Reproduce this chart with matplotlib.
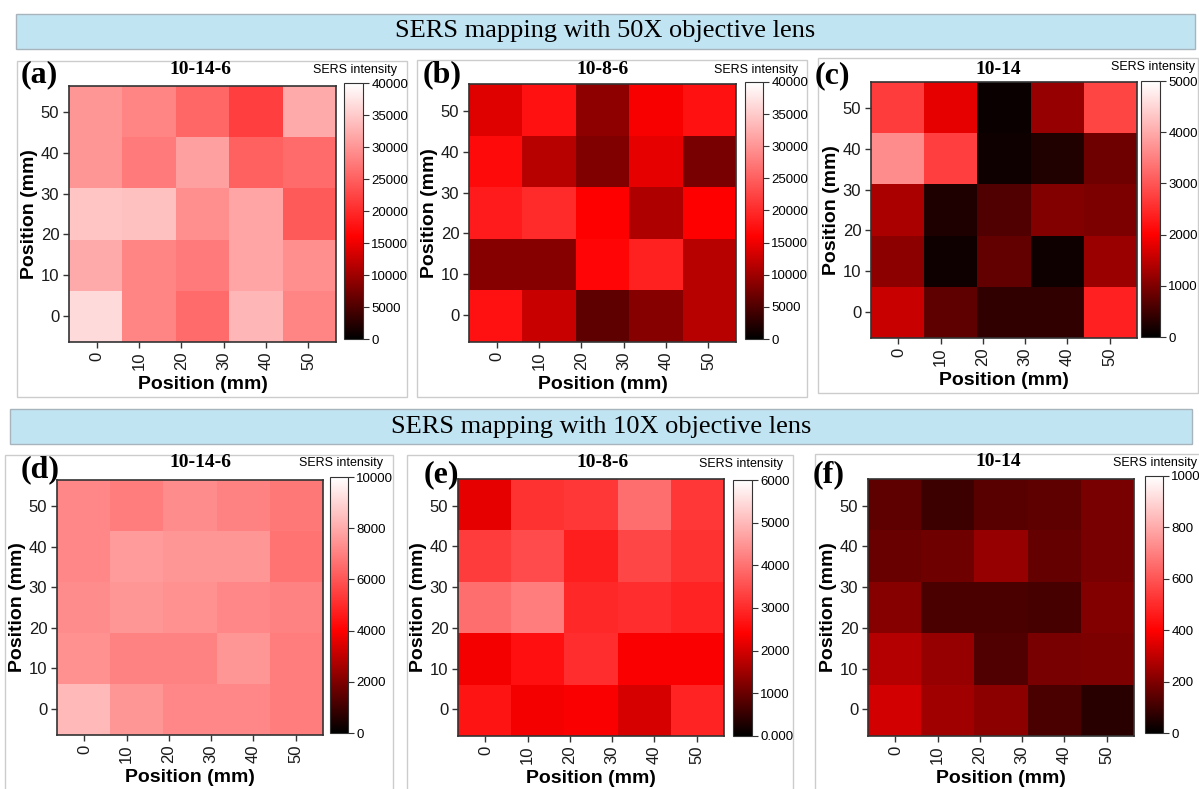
import numpy as np
import matplotlib
matplotlib.use("Agg")
import matplotlib.pyplot as plt
from matplotlib.colors import LinearSegmentedColormap
from matplotlib.patches import Rectangle

W, H = 1199, 789

# Grid positions (mm) and cell edges
positions = [0, 10, 20, 30, 40, 50]
edges = np.linspace(-6.5, 56.5, 6)

# SERS intensity maps, rows listed from top (50 mm) to bottom (0 mm)
map_a = [[30000, 28500, 25500, 22000, 32000],
         [30000, 27500, 31000, 25000, 26000],
         [34500, 34000, 29500, 31500, 24500],
         [32000, 28500, 27500, 31500, 29500],
         [36500, 28500, 26000, 33000, 28500]]
map_b = [[14000, 17500, 9000, 15500, 17500],
         [17000, 11500, 8000, 14500, 7500],
         [18500, 20000, 16000, 11000, 16000],
         [8500, 8500, 16500, 19000, 11500],
         [17500, 12500, 6000, 8500, 11500]]
map_c = [[2700, 1800, 80, 1180, 2800],
         [3650, 2750, 120, 270, 860],
         [1330, 240, 630, 1020, 980],
         [1100, 120, 780, 120, 1220],
         [1570, 750, 390, 390, 2400]]
map_d = [[7180, 6940, 7300, 7060, 6820],
         [7180, 7650, 7530, 7530, 6700],
         [7300, 7530, 7400, 7180, 7060],
         [7400, 7060, 7060, 7530, 6940],
         [8350, 7530, 7180, 7180, 6940]]
map_e = [[2160, 3100, 3180, 3950, 3180],
         [3250, 3460, 2820, 3390, 3100],
         [3950, 4160, 2960, 3040, 2890],
         [2300, 2610, 3040, 2350, 2350],
         [2680, 2300, 2350, 2020, 2890]]
map_f = [[150, 95, 140, 150, 190],
         [165, 172, 235, 157, 190],
         [212, 118, 118, 110, 204],
         [282, 235, 125, 190, 196],
         [330, 250, 220, 118, 63]]

panel_tags = ["(a)", "(b)", "(c)", "(d)", "(e)", "(f)"]
sample_names = ["10-14-6", "10-8-6", "10-14", "10-14-6", "10-8-6", "10-14"]
maps = [map_a, map_b, map_c, map_d, map_e, map_f]
cbar_max = [40000, 40000, 5000, 10000, 6000, 1000]
cbar_step = [5000, 5000, 1000, 2000, 1000, 200]
banner_texts = ["SERS mapping with 50X objective lens",
                "SERS mapping with 10X objective lens"]

cmap = LinearSegmentedColormap.from_list(
    "sers", [(0.0, "black"), (0.4, "red"), (1.0, "white")], N=256)

serif = ["Liberation Serif", "DejaVu Serif"]
sans = ["Liberation Sans", "DejaVu Sans"]

fig = plt.figure(figsize=(W / 100, H / 100), dpi=100)
fig.patch.set_facecolor("white")


def rect(x0, y0, x1, y1):
    return [x0 / W, 1 - y1 / H, (x1 - x0) / W, (y1 - y0) / H]


def fx(x):
    return x / W


def fy(y):
    return 1 - y / H


# Banners
for (bx0, by0, bx1, by1), txt in zip([(16, 14, 1195, 49), (10, 409, 1192, 444)],
                                     banner_texts):
    fig.patches.append(Rectangle((fx(bx0), fy(by1)), (bx1 - bx0) / W,
                                 (by1 - by0) / H, transform=fig.transFigure,
                                 facecolor="#c1e4f3", edgecolor="#a8b4bc",
                                 linewidth=1.0, zorder=-2))
    fig.text(fx((bx0 + bx1) / 2), fy((by0 + by1) / 2), txt, ha="center",
             va="center", fontsize=19, family=serif, color="black")

# Layout of each panel (pixel coordinates)
frames = [(17, 61, 407, 397), (417, 60, 807, 397), (818, 58, 1198, 393),
          (5, 455, 393, 792), (407, 455, 793, 792), (815, 454, 1202, 792)]
axes_px = [(69, 86, 336, 342), (469, 84, 736, 342), (871, 82, 1137, 338),
           (57, 480, 323, 735), (458, 479, 724, 736), (868, 479, 1134, 736)]
cbar_px = [(344, 83, 363, 339), (745, 82, 763, 339), (1141, 81, 1160, 337),
           (330, 477, 348, 733), (733, 480, 752, 736), (1145, 476, 1163, 733)]
tag_px = [(39, 75), (442, 75), (832, 76), (40, 470), (441, 475), (829, 475)]
title_px = [(200, 70), (603, 70), (998, 69), (200, 463), (603, 463), (998, 462)]
cbtitle_px = [(397, 70), (798, 70), (1195, 67), (383, 463), (783, 464), (1197, 463)]

for i in range(6):
    fx0, fy0, fx1, fy1 = frames[i]
    fig.patches.append(Rectangle((fx(fx0), fy(fy1)), (fx1 - fx0) / W,
                                 (fy1 - fy0) / H, transform=fig.transFigure,
                                 facecolor="white", edgecolor="#cccccc",
                                 linewidth=1.0, zorder=-1))

    ax = fig.add_axes(rect(*axes_px[i]))
    ax.set_zorder(1)
    z = np.flipud(np.array(maps[i], dtype=float))
    mesh = ax.pcolormesh(edges, edges, z, cmap=cmap, vmin=0, vmax=cbar_max[i])
    ax.set_xlim(edges[0], edges[-1])
    ax.set_ylim(edges[0], edges[-1])
    ax.set_xticks(positions)
    ax.set_yticks(positions)
    ax.set_xticklabels([str(p) for p in positions], rotation=90,
                       family=sans, fontsize=12)
    ax.set_yticklabels([str(p) for p in positions], family=sans, fontsize=12)
    ax.tick_params(direction="out", length=4, width=1, color="#333333",
                   labelcolor="#1a1a1a", pad=3)
    for s in ax.spines.values():
        s.set_color("#333333")
        s.set_linewidth(1.2)
    ax.set_xlabel("Position (mm)", family=sans, fontsize=14,
                  fontweight="bold", labelpad=4)
    ax.set_ylabel("Position (mm)", family=sans, fontsize=14,
                  fontweight="bold", labelpad=2)

    cax = fig.add_axes(rect(*cbar_px[i]))
    cax.set_zorder(1)
    cb = fig.colorbar(mesh, cax=cax,
                      ticks=np.arange(0, cbar_max[i] + 1, cbar_step[i]))
    labels = [str(int(t)) for t in np.arange(0, cbar_max[i] + 1, cbar_step[i])]
    if i == 4:
        labels[0] = "0.000"
    cb.ax.set_yticklabels(labels, family=sans, fontsize=9.5)
    cb.ax.tick_params(length=4, width=0.8, color="#333333", pad=2)
    cb.outline.set_linewidth(0.8)
    cb.outline.set_edgecolor("#333333")

    fig.text(fx(tag_px[i][0]), fy(tag_px[i][1]), panel_tags[i], ha="center",
             va="center", fontsize=23, fontweight="bold", family=serif,
             zorder=5)
    fig.text(fx(title_px[i][0]), fy(title_px[i][1]), sample_names[i],
             ha="center", va="center", fontsize=14, fontweight="bold",
             family=serif, zorder=5)
    fig.text(fx(cbtitle_px[i][0]), fy(cbtitle_px[i][1]), "SERS intensity",
             ha="right", va="center", fontsize=9, family=sans, zorder=5)

fig.savefig("out.png", dpi=100)
